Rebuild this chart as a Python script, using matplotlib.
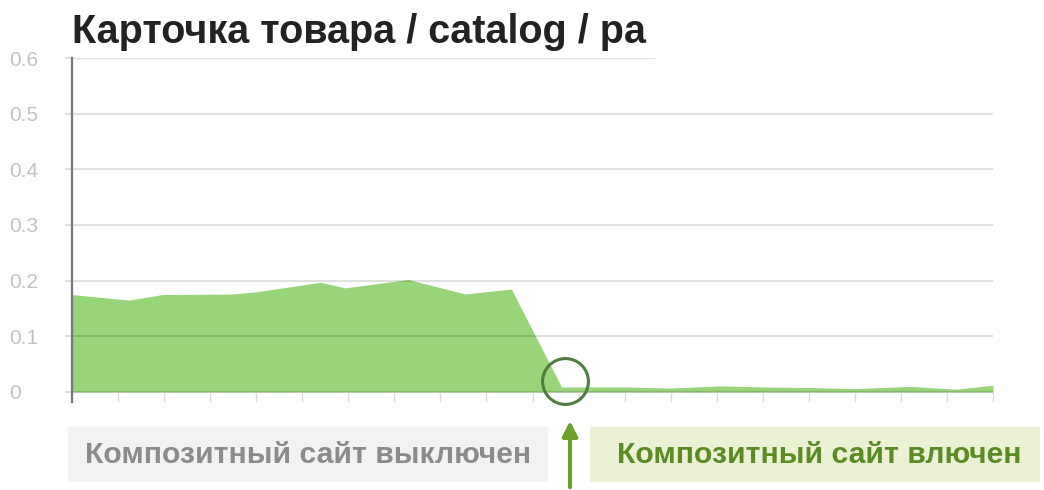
import matplotlib.pyplot as plt
from matplotlib.patches import Rectangle

# Share of visits, x in days (tick units)
days = [0, 1.24, 1.96, 3.48, 4.0, 5.4, 5.93, 7.3, 8.54, 9.54, 10.63,
        12, 13, 14.1, 15, 16, 17, 18.2, 19.2, 20]
share = [0.175, 0.165, 0.175, 0.176, 0.18, 0.197, 0.187, 0.202, 0.176, 0.185, 0.009,
         0.009, 0.007, 0.011, 0.009, 0.008, 0.006, 0.010, 0.005, 0.012]
yticks = [0, 0.1, 0.2, 0.3, 0.4, 0.5, 0.6]
ytick_labels = ['0', '0.1', '0.2', '0.3', '0.4', '0.5', '0.6']
switch_day, switch_val = 10.7, 0.02

title = 'Карточка товара / catalog / pa'
label_off = 'Композитный сайт выключен'
label_on = 'Композитный сайт влючен'

W, H = 1044, 490
plt.rcParams['font.family'] = ['Liberation Sans', 'DejaVu Sans']
fig = plt.figure(figsize=(W / 100, H / 100), dpi=100)

def px(x, y):
    # top-left pixel coords -> figure fraction
    return x / W, 1 - y / H

ax = fig.add_axes([72 / W, (H - 402) / H, (993 - 72) / W, (402 - 58) / H])
ax.fill_between(days, share, 0, color='#98d47a', lw=0, zorder=1)
ax.set_xlim(0, 20)
ax.set_ylim(-0.018, 0.6)
for v in yticks:
    ax.axhline(v, color='black', alpha=0.12, lw=1.6, zorder=2)

ax.set_yticks(yticks)
ax.set_yticklabels(ytick_labels, fontsize=15, color='#c2c2c2', ha='left')
ax.tick_params(axis='y', length=5, width=1.6, color='#e0e0e0', pad=40)
ax.set_xticks(range(21))
ax.set_xticklabels([])
ax.tick_params(axis='x', direction='in', length=7, width=1, color='#dcdcdc')
for s in ['top', 'right', 'bottom']:
    ax.spines[s].set_visible(False)
ax.spines['left'].set_color('#777777')
ax.spines['left'].set_linewidth(1.6)

# ring around the switch point
ax.plot([switch_day], [switch_val], 'o', ms=33, mfc='none', mec='#4f7d40', mew=2.2, zorder=5,
        clip_on=False)

# arrow pointing at the switch point
ax.annotate('', xy=(570, H - 418), xycoords='figure pixels', xytext=(570, 0),
            textcoords='figure pixels',
            arrowprops=dict(arrowstyle='-|>,head_length=0.9,head_width=0.45', color='#6da02c', lw=3))

# header strip to the right of x=655 is blank (also cuts the title)
fig.patches.append(Rectangle(px(655, 90), (W - 655) / W, 90 / H, transform=fig.transFigure,
                             facecolor='white', edgecolor='none', zorder=10))

fig.text(*px(72, 43), title, fontsize=28.5, fontweight='bold', color='#222222', va='baseline',
         zorder=5)

fig.patches.append(Rectangle(px(68, 482), (548 - 68) / W, 55 / H, transform=fig.transFigure,
                             facecolor='#f2f2f2', edgecolor='none'))
fig.text(*px(308, 455), label_off, fontsize=21.7, fontweight='bold', color='#8b8b8b',
         ha='center', va='center')
fig.patches.append(Rectangle(px(590, 482), (1040 - 590) / W, 55 / H, transform=fig.transFigure,
                             facecolor='#eaf2d3', edgecolor='none'))
fig.text(*px(819, 455), label_on, fontsize=21.7, fontweight='bold', color='#5b8a27',
         ha='center', va='center')

fig.savefig('out.png', dpi=100)
